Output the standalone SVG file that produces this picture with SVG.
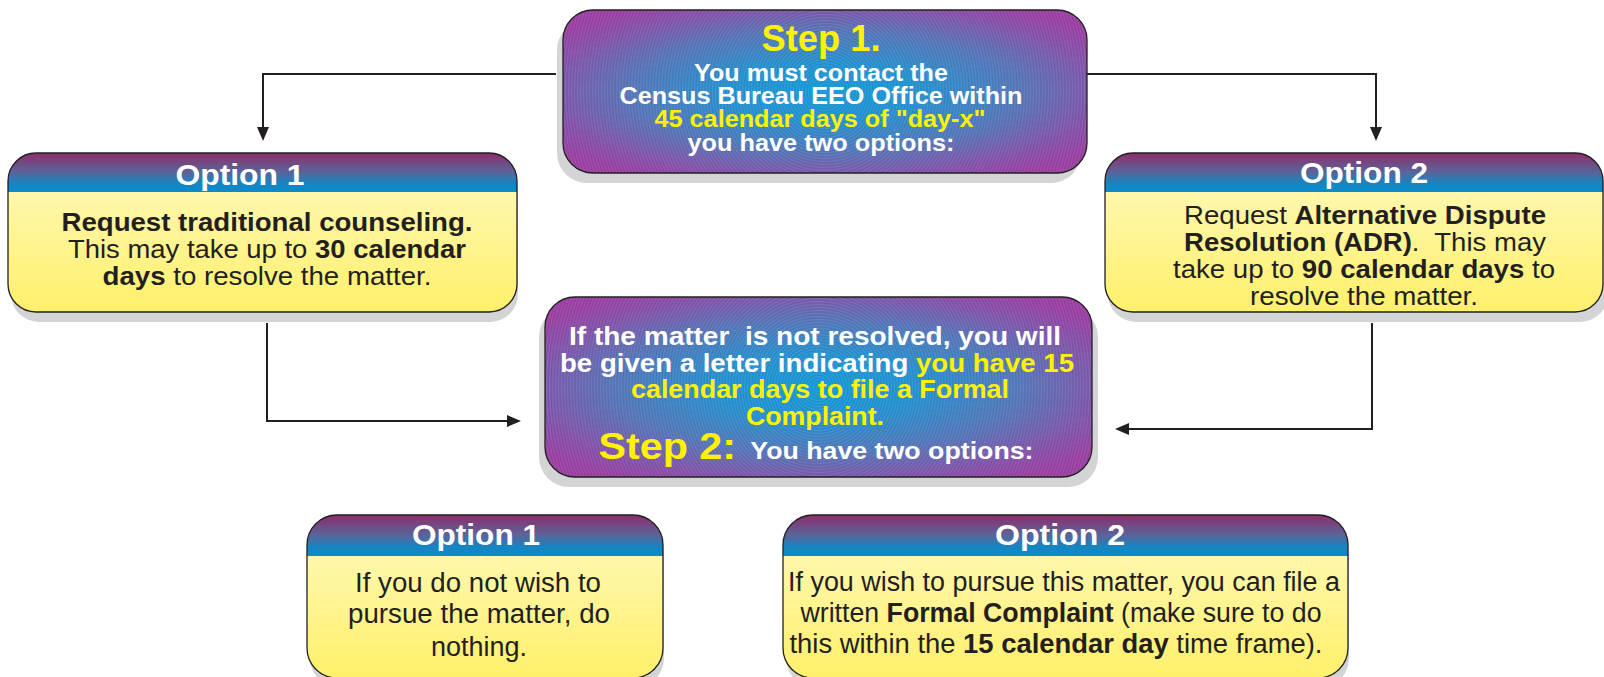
<svg xmlns="http://www.w3.org/2000/svg" width="1604" height="677" viewBox="0 0 1604 677">
<defs>
<style>
.t{font-family:"Liberation Sans",Arial,Helvetica,sans-serif}
.b{font-weight:bold}
.w{fill:#ffffff}
.y{fill:#fff200}
.k{fill:#231f20}
.hd{font-family:"Liberation Sans",Arial,Helvetica,sans-serif;font-size:30px;font-weight:bold;fill:#ffffff}
.pre{white-space:pre}
.shadow{fill:#d3d4d6}
.edge{fill:none;stroke:#231f20;stroke-width:1.3}
.conn{fill:none;stroke:#231f20;stroke-width:2}
.hdr{fill:url(#hdrGrad)}
.body{fill:url(#bodyGrad)}
</style>
<linearGradient id="hdrGrad" x1="0" y1="0" x2="0" y2="1">
<stop offset="0" stop-color="#8d2d6c"/>
<stop offset="0.5" stop-color="#59659a"/>
<stop offset="0.78" stop-color="#1685c1"/>
<stop offset="1" stop-color="#0a8ccb"/>
</linearGradient>
<linearGradient id="bodyGrad" x1="0" y1="0" x2="0" y2="1">
<stop offset="0" stop-color="#fff9c2"/>
<stop offset="1" stop-color="#fff06a"/>
</linearGradient>
<radialGradient id="stepGrad" cx="0.5" cy="0.5" r="0.62">
<stop offset="0" stop-color="#0c95d4"/>
<stop offset="0.3" stop-color="#1f8bcb"/>
<stop offset="0.6" stop-color="#4f70b4"/>
<stop offset="0.85" stop-color="#7f4ca5"/>
<stop offset="1" stop-color="#95399e"/>
</radialGradient>
<radialGradient id="rings1" gradientUnits="userSpaceOnUse" cx="825" cy="91" r="3" spreadMethod="repeat">
<stop offset="0" stop-color="#ffffff" stop-opacity="0"/>
<stop offset="0.5" stop-color="#ffffff" stop-opacity="0.12"/>
<stop offset="1" stop-color="#ffffff" stop-opacity="0"/>
</radialGradient>
<radialGradient id="rings2" gradientUnits="userSpaceOnUse" cx="818" cy="387" r="3" spreadMethod="repeat">
<stop offset="0" stop-color="#ffffff" stop-opacity="0"/>
<stop offset="0.5" stop-color="#ffffff" stop-opacity="0.12"/>
<stop offset="1" stop-color="#ffffff" stop-opacity="0"/>
</radialGradient>
<marker id="ah" markerUnits="userSpaceOnUse" viewBox="0 0 14 12" markerWidth="14" markerHeight="12" refX="12" refY="6" orient="auto">
<path d="M0,0 L14,6 L0,12 Z" fill="#231f20"/>
</marker>
</defs>

<rect width="1604" height="677" fill="#ffffff"/>

<g id="connectors">
<path class="conn" d="M556,74 H263 V139" marker-end="url(#ah)"/>
<path class="conn" d="M1087,74 H1376 V139" marker-end="url(#ah)"/>
<path class="conn" d="M267,323 V421 H519" marker-end="url(#ah)"/>
<path class="conn" d="M1372,323 V429 H1117" marker-end="url(#ah)"/>
</g>

<g id="step1">
<rect class="shadow" x="557" y="20" width="524" height="163" rx="30"/>
<rect x="563" y="10" width="524" height="163" rx="30" fill="url(#stepGrad)"/>
<rect x="563" y="10" width="524" height="163" rx="30" fill="url(#rings1)"/>
<rect class="edge" x="563" y="10" width="524" height="163" rx="30"/>
<text class="t b y" x="821" y="51" font-size="37" text-anchor="middle" textLength="119" lengthAdjust="spacingAndGlyphs">Step 1.</text>
<text class="t b w" x="821" y="81" font-size="23" text-anchor="middle" textLength="254" lengthAdjust="spacingAndGlyphs">You must contact the</text>
<text class="t b w" x="821" y="104" font-size="23" text-anchor="middle" textLength="403" lengthAdjust="spacingAndGlyphs">Census Bureau EEO Office within</text>
<text class="t b y" x="820" y="127" font-size="23" text-anchor="middle" textLength="331" lengthAdjust="spacingAndGlyphs">45 calendar days of &quot;day-x&quot;</text>
<text class="t b w" x="821" y="151" font-size="23" text-anchor="middle" textLength="267" lengthAdjust="spacingAndGlyphs">you have two options:</text>
</g>

<g id="option1-top">
<rect class="shadow" x="11" y="163" width="507" height="159" rx="28"/>
<rect class="body" x="8" y="153" width="509" height="159" rx="28"/>
<path class="hdr" d="M8,192 V181 A28,28 0 0 1 36,153 H489 A28,28 0 0 1 517,181 V192 Z"/>
<rect class="edge" x="8" y="153" width="509" height="159" rx="28"/>
<text class="hd" x="240" y="185" text-anchor="middle" textLength="129" lengthAdjust="spacingAndGlyphs">Option 1</text>
<text class="t b k" x="267" y="231" font-size="25" text-anchor="middle" textLength="411" lengthAdjust="spacingAndGlyphs">Request traditional counseling.</text>
<text class="t k" x="267" y="258" font-size="25" text-anchor="middle" textLength="398" lengthAdjust="spacingAndGlyphs">This may take up to <tspan class="b">30 calendar</tspan></text>
<text class="t k" x="267" y="285" font-size="25" text-anchor="middle" textLength="329" lengthAdjust="spacingAndGlyphs"><tspan class="b">days</tspan> to resolve the matter.</text>
</g>

<g id="option2-top">
<rect class="shadow" x="1108" y="163" width="500" height="159" rx="28"/>
<rect class="body" x="1105" y="153" width="498" height="159" rx="28"/>
<path class="hdr" d="M1105,192 V181 A28,28 0 0 1 1133,153 H1575 A28,28 0 0 1 1603,181 V192 Z"/>
<rect class="edge" x="1105" y="153" width="498" height="159" rx="28"/>
<text class="hd" x="1364" y="183" text-anchor="middle" textLength="128" lengthAdjust="spacingAndGlyphs">Option 2</text>
<text class="t k" x="1365" y="224" font-size="26" text-anchor="middle" textLength="362" lengthAdjust="spacingAndGlyphs">Request <tspan class="b">Alternative Dispute</tspan></text>
<text class="t k pre" x="1365" y="251" font-size="26" text-anchor="middle" textLength="362" lengthAdjust="spacingAndGlyphs"><tspan class="b">Resolution (ADR)</tspan>.  This may</text>
<text class="t k" x="1364" y="278" font-size="26" text-anchor="middle" textLength="382" lengthAdjust="spacingAndGlyphs">take up to <tspan class="b">90 calendar days</tspan> to</text>
<text class="t k" x="1364" y="305" font-size="26" text-anchor="middle" textLength="228" lengthAdjust="spacingAndGlyphs">resolve the matter.</text>
</g>

<g id="step2">
<rect class="shadow" x="539" y="307" width="559" height="180" rx="30"/>
<rect x="545" y="297" width="547" height="180" rx="30" fill="url(#stepGrad)"/>
<rect x="545" y="297" width="547" height="180" rx="30" fill="url(#rings2)"/>
<rect class="edge" x="545" y="297" width="547" height="180" rx="30"/>
<text class="t b w pre" x="815" y="345" font-size="25" text-anchor="middle" textLength="492" lengthAdjust="spacingAndGlyphs">If the matter  is not resolved, you will</text>
<text class="t b w" x="817" y="372" font-size="25" text-anchor="middle" textLength="514" lengthAdjust="spacingAndGlyphs">be given a letter indicating <tspan class="y">you have 15</tspan></text>
<text class="t b y" x="820" y="398" font-size="25" text-anchor="middle" textLength="378" lengthAdjust="spacingAndGlyphs">calendar days to file a Formal</text>
<text class="t b y" x="815" y="425" font-size="25" text-anchor="middle" textLength="138" lengthAdjust="spacingAndGlyphs">Complaint.</text>
<text class="t b w pre" x="816" y="459" font-size="24" text-anchor="middle" textLength="435" lengthAdjust="spacingAndGlyphs"><tspan class="y" font-size="37">Step 2:</tspan>  You have two options:</text>
</g>

<g id="option1-bottom">
<rect class="shadow" x="310" y="525" width="354" height="163" rx="30"/>
<rect class="body" x="307" y="515" width="356" height="163" rx="30"/>
<path class="hdr" d="M307,556 V545 A30,30 0 0 1 337,515 H633 A30,30 0 0 1 663,545 V556 Z"/>
<rect class="edge" x="307" y="515" width="356" height="163" rx="30"/>
<text class="hd" x="476" y="545" text-anchor="middle" textLength="128" lengthAdjust="spacingAndGlyphs">Option 1</text>
<text class="t k" x="478" y="592" font-size="27" text-anchor="middle" textLength="246" lengthAdjust="spacingAndGlyphs">If you do not wish to</text>
<text class="t k" x="479" y="623" font-size="27" text-anchor="middle" textLength="262" lengthAdjust="spacingAndGlyphs">pursue the matter, do</text>
<text class="t k" x="479" y="656" font-size="27" text-anchor="middle" textLength="96" lengthAdjust="spacingAndGlyphs">nothing.</text>
</g>

<g id="option2-bottom">
<rect class="shadow" x="786" y="525" width="563" height="163" rx="30"/>
<rect class="body" x="783" y="515" width="565" height="163" rx="30"/>
<path class="hdr" d="M783,556 V545 A30,30 0 0 1 813,515 H1318 A30,30 0 0 1 1348,545 V556 Z"/>
<rect class="edge" x="783" y="515" width="565" height="163" rx="30"/>
<text class="hd" x="1060" y="545" text-anchor="middle" textLength="130" lengthAdjust="spacingAndGlyphs">Option 2</text>
<text class="t k" x="1064" y="591" font-size="27" text-anchor="middle" textLength="552" lengthAdjust="spacingAndGlyphs">If you wish to pursue this matter, you can file a</text>
<text class="t k" x="1061" y="622" font-size="27" text-anchor="middle" textLength="521" lengthAdjust="spacingAndGlyphs">written <tspan class="b">Formal Complaint</tspan> (make sure to do</text>
<text class="t k" x="1056" y="653" font-size="27" text-anchor="middle" textLength="533" lengthAdjust="spacingAndGlyphs">this within the <tspan class="b">15 calendar day</tspan> time frame).</text>
</g>
</svg>
